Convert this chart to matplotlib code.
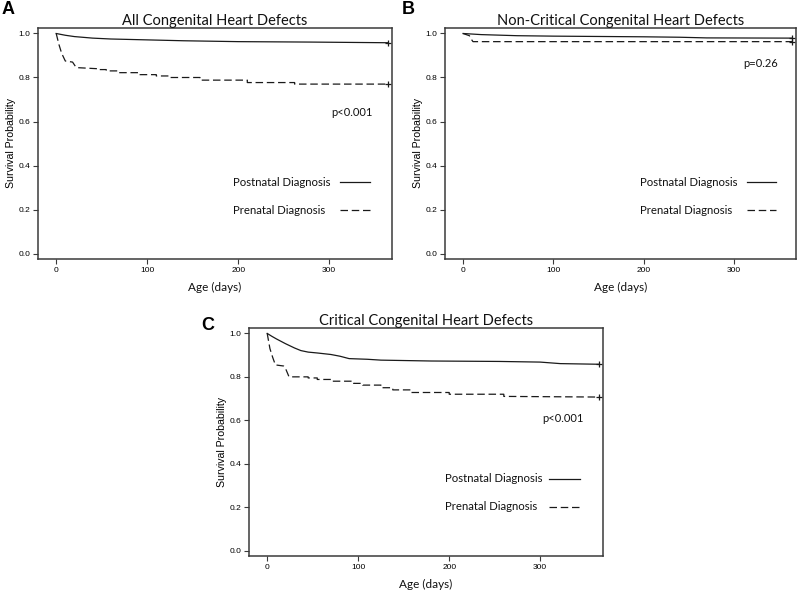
import matplotlib.pyplot as plt
from matplotlib.lines import Line2D

plt.rcParams['font.family'] = ['Lato', 'DejaVu Sans']

# Kaplan-Meier curves (day, survival)
all_post_days = [0, 10, 20, 40, 60, 100, 140, 200, 280, 365]
all_post_surv = [1.0, 0.992, 0.986, 0.979, 0.975, 0.971, 0.967, 0.963, 0.961, 0.958]
all_pre_days = [0, 3, 6, 10, 18, 22, 45, 45, 55, 55, 68, 68, 92, 92, 110, 110, 125, 125,
                158, 158, 210, 210, 262, 262, 365]
all_pre_surv = [1.0, 0.95, 0.91, 0.875, 0.87, 0.845, 0.84, 0.836, 0.836, 0.83, 0.83, 0.822,
                0.822, 0.813, 0.813, 0.807, 0.807, 0.8, 0.8, 0.788, 0.788, 0.777, 0.777, 0.77, 0.77]

nc_post_days = [0, 20, 60, 100, 200, 240, 270, 365]
nc_post_surv = [1.0, 0.995, 0.99, 0.988, 0.985, 0.983, 0.98, 0.979]
nc_pre_days = [0, 7, 9, 11, 365]
nc_pre_surv = [1.0, 0.99, 0.975, 0.963, 0.963]

cr_post_days = [0, 5, 10, 15, 20, 25, 30, 37, 45, 55, 70, 80, 90, 110, 125, 180, 255, 300, 322, 365]
cr_post_surv = [1.0, 0.987, 0.975, 0.964, 0.953, 0.943, 0.933, 0.921, 0.914, 0.91, 0.903,
                0.895, 0.884, 0.881, 0.877, 0.873, 0.871, 0.868, 0.861, 0.858]
cr_pre_days = [0, 3, 6, 9, 18, 20, 24, 45, 45, 55, 55, 70, 70, 95, 95, 105, 105, 125, 125,
               138, 138, 158, 158, 200, 200, 260, 260, 365]
cr_pre_surv = [1.0, 0.93, 0.89, 0.855, 0.85, 0.84, 0.80, 0.80, 0.795, 0.795, 0.788, 0.788,
               0.78, 0.78, 0.77, 0.77, 0.762, 0.762, 0.75, 0.75, 0.74, 0.74, 0.728, 0.728,
               0.72, 0.72, 0.71, 0.707]

group_labels = ['Postnatal Diagnosis', 'Prenatal Diagnosis']

panels = [
    ('A', 'All Congenital Heart Defects', 'p<0.001', all_post_days, all_post_surv, all_pre_days, all_pre_surv),
    ('B', 'Non-Critical Congenital Heart Defects', 'p=0.26', nc_post_days, nc_post_surv, nc_pre_days, nc_pre_surv),
    ('C', 'Critical Congenital Heart Defects', 'p<0.001', cr_post_days, cr_post_surv, cr_pre_days, cr_pre_surv),
]

# axes rectangles in pixels (left, top, right, bottom) on an 800x592 canvas
W, H = 800, 592
boxes = [(38, 28, 392, 259), (445, 28, 796, 259), (249, 328, 603, 556)]
letter_pos = [(8, 10), (408, 10), (208, 325)]
ptext_pos = [(0.887, 0.636), (0.900, 0.848), (0.886, 0.605)]
# legend: text x, key x0, key x1, row y's (axes fractions)
leg_pos = [(0.551, 0.853, 0.938, (0.333, 0.212)),
           (0.556, 0.860, 0.943, (0.333, 0.212)),
           (0.554, 0.847, 0.935, (0.338, 0.215))]

fig = plt.figure(figsize=(8, 5.92), dpi=100)
ink = '#1a1a1a'
dash = (0, (6, 3))
styles = ['-', dash]

for i, (letter, title, ptxt, pd_, ps, qd, qs) in enumerate(panels):
    l, t, r, b = boxes[i]
    ax = fig.add_axes([l / W, 1 - b / H, (r - l) / W, (b - t) / H])
    ax.plot(pd_, ps, color=ink, lw=0.9)
    ax.plot(qd, qs, color=ink, lw=0.9, linestyle=dash)
    ax.plot(pd_[-1], ps[-1], marker='+', color=ink, ms=5, mew=0.9)
    ax.plot(qd[-1], qs[-1], marker='+', color=ink, ms=5, mew=0.9)

    ax.set_xlim(-20, 369)
    ax.set_ylim(-0.025, 1.025)
    ax.set_xticks([0, 100, 200, 300])
    ax.set_yticks([0.0, 0.2, 0.4, 0.6, 0.8, 1.0])
    ax.set_yticklabels(['0.0', '0.2', '0.4', '0.6', '0.8', '1.0'])
    for sp in ax.spines.values():
        sp.set_color('#3a3a3a')
        sp.set_linewidth(1.1)
    ax.tick_params(direction='out', length=3.5, width=0.8, color='#3a3a3a',
                   labelsize=6, pad=2)
    for lab in ax.get_xticklabels() + ax.get_yticklabels():
        lab.set_family('Liberation Sans')

    ax.set_title(title, fontsize=10.5, pad=1.5, color='#111111')
    ax.set_xlabel('Age (days)', fontsize=8.5, labelpad=6, color='#111111')
    ax.set_ylabel('Survival Probability', fontsize=7.6, family='Liberation Sans', labelpad=1.5)

    ax.text(ptext_pos[i][0], ptext_pos[i][1], ptxt, transform=ax.transAxes,
            ha='center', va='center', fontsize=8, color='#111111')

    # legend: labels left-aligned, keys to the right
    tx, kx0, kx1, rows = leg_pos[i]
    for lab, ls, ry in zip(group_labels, styles, rows):
        ax.text(tx, ry, lab, transform=ax.transAxes, ha='left', va='center',
                fontsize=8.2, color='#111111')
        ax.add_line(Line2D([kx0, kx1], [ry, ry], transform=ax.transAxes,
                           color=ink, lw=0.9, linestyle=ls))

    fig.text(letter_pos[i][0] / W, 1 - letter_pos[i][1] / H, letter, fontsize=13,
             fontweight='bold', family='Liberation Sans', ha='center', va='center')

fig.savefig('out.png', dpi=100)
